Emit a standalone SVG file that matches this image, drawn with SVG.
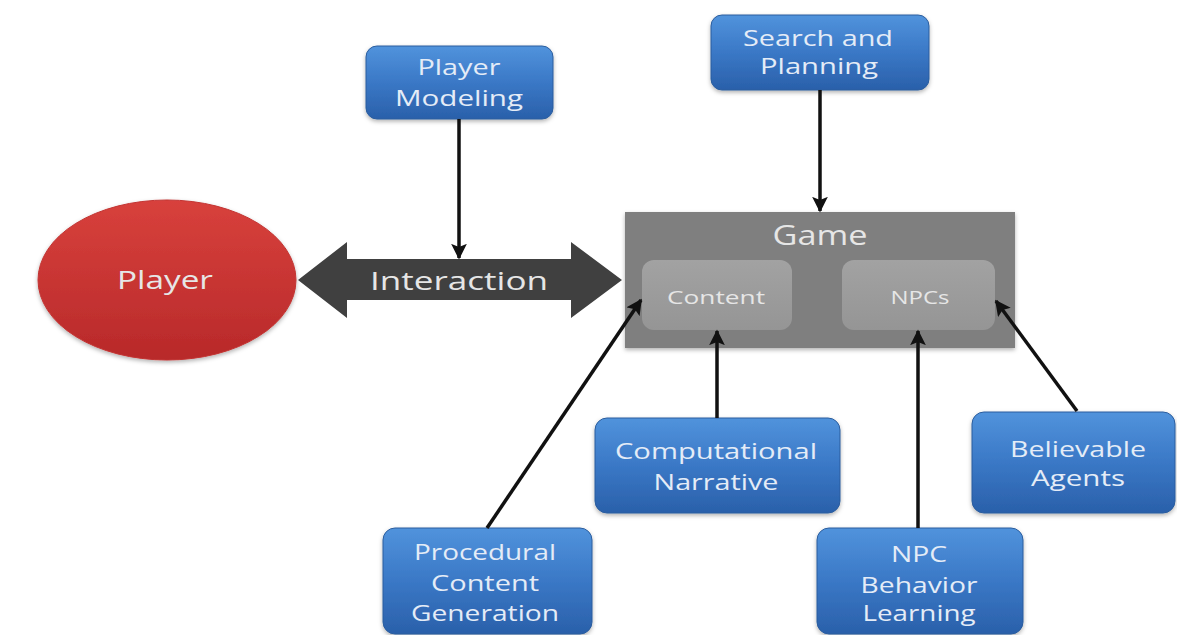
<svg xmlns="http://www.w3.org/2000/svg" width="1177" height="635" viewBox="0 0 1177 635">
<defs>
<linearGradient id="blue" x1="0" y1="0" x2="0" y2="1">
<stop offset="0" stop-color="#5193dc"/>
<stop offset="0.5" stop-color="#3a78c6"/>
<stop offset="1" stop-color="#2a60aa"/>
</linearGradient>
<linearGradient id="red" x1="0" y1="0" x2="0" y2="1">
<stop offset="0" stop-color="#d8413c"/>
<stop offset="1" stop-color="#b8292a"/>
</linearGradient>
<linearGradient id="inner" x1="0" y1="0" x2="0" y2="1">
<stop offset="0" stop-color="#a2a2a2"/>
<stop offset="1" stop-color="#959595"/>
</linearGradient>
<filter id="sh" x="-10%" y="-10%" width="120%" height="130%">
<feDropShadow dx="0" dy="2" stdDeviation="2" flood-color="#000" flood-opacity="0.3"/>
</filter>
<marker id="ah" viewBox="0 0 10 10" refX="9" refY="5" markerWidth="4.5" markerHeight="4.5" orient="auto" markerUnits="strokeWidth">
<path d="M0,0 L10,5 L0,10 L2,5 Z" fill="#111"/>
</marker>
<style>
.box{fill:url(#blue);stroke:#2b5d9e;stroke-width:1;filter:url(#sh)}
.bt{font-family:"Open Sans","DejaVu Sans",sans-serif;font-size:21px;fill:#e4ecf7;text-anchor:middle}
.gt{font-family:"Open Sans","DejaVu Sans",sans-serif;fill:#e6e6e6;text-anchor:middle}
.conn{stroke:#111;stroke-width:3.5;fill:none;marker-end:url(#ah)}
</style>
</defs>
<rect width="1177" height="635" fill="#ffffff"/>

<g id="player">
<ellipse cx="167" cy="280" rx="129" ry="80" fill="url(#red)" stroke="#c23432" stroke-width="1" filter="url(#sh)"/>
<text class="gt" x="165" y="289" font-size="25" textLength="96" lengthAdjust="spacingAndGlyphs" fill="#f0dcdc">Player</text>
</g>

<g id="interaction">
<polygon points="298,280 347,242 347,259 571,259 571,242 622,280 571,318 571,300 347,300 347,318" fill="#404040"/>
<text class="gt" x="459" y="290" font-size="25" textLength="178" lengthAdjust="spacingAndGlyphs" fill="#d0d0d0">Interaction</text>
</g>

<g id="game">
<rect x="625" y="212" width="390" height="136" fill="#7f7f7f" filter="url(#sh)"/>
<text class="gt" x="820" y="245" font-size="27" textLength="95" lengthAdjust="spacingAndGlyphs">Game</text>
</g>

<g id="content">
<rect x="642" y="260" width="150" height="70" rx="12" fill="url(#inner)"/>
<text class="gt" x="716" y="304" font-size="19" textLength="98" lengthAdjust="spacingAndGlyphs">Content</text>
</g>

<g id="npcs">
<rect x="842" y="260" width="153" height="70" rx="12" fill="url(#inner)"/>
<text class="gt" x="920" y="304" font-size="19" textLength="59" lengthAdjust="spacingAndGlyphs">NPCs</text>
</g>

<g id="player-modeling">
<rect class="box" x="366" y="46" width="187" height="73" rx="11"/>
<text class="bt" x="459" y="75" textLength="83" lengthAdjust="spacingAndGlyphs">Player</text>
<text class="bt" x="459" y="106" textLength="128" lengthAdjust="spacingAndGlyphs">Modeling</text>
</g>

<g id="search-planning">
<rect class="box" x="711" y="15" width="218" height="75" rx="11"/>
<text class="bt" x="818" y="46" textLength="150" lengthAdjust="spacingAndGlyphs">Search and</text>
<text class="bt" x="819" y="74" textLength="118" lengthAdjust="spacingAndGlyphs">Planning</text>
</g>

<g id="computational-narrative">
<rect class="box" x="595" y="418" width="245" height="95" rx="12"/>
<text class="bt" x="716" y="459" textLength="202" lengthAdjust="spacingAndGlyphs">Computational</text>
<text class="bt" x="716" y="490" textLength="125" lengthAdjust="spacingAndGlyphs">Narrative</text>
</g>

<g id="believable-agents">
<rect class="box" x="972" y="412" width="203" height="101" rx="12"/>
<text class="bt" x="1078" y="457" textLength="136" lengthAdjust="spacingAndGlyphs">Believable</text>
<text class="bt" x="1078" y="486" textLength="94" lengthAdjust="spacingAndGlyphs">Agents</text>
</g>

<g id="procedural-content-generation">
<rect class="box" x="383" y="528" width="209" height="106" rx="12"/>
<text class="bt" x="485" y="560" textLength="142" lengthAdjust="spacingAndGlyphs">Procedural</text>
<text class="bt" x="485" y="591" textLength="108" lengthAdjust="spacingAndGlyphs">Content</text>
<text class="bt" x="485" y="621" textLength="148" lengthAdjust="spacingAndGlyphs">Generation</text>
</g>

<g id="npc-behavior-learning">
<rect class="box" x="817" y="528" width="206" height="106" rx="12"/>
<text class="bt" x="919" y="562" textLength="56" lengthAdjust="spacingAndGlyphs">NPC</text>
<text class="bt" x="919" y="593" textLength="117" lengthAdjust="spacingAndGlyphs">Behavior</text>
<text class="bt" x="919" y="621" textLength="113" lengthAdjust="spacingAndGlyphs">Learning</text>
</g>

<g id="connectors">
<line class="conn" x1="459" y1="119" x2="459" y2="258"/>
<line class="conn" x1="820" y1="90" x2="820" y2="211"/>
<line class="conn" x1="487" y1="528" x2="641" y2="300"/>
<line class="conn" x1="717" y1="418" x2="717" y2="331"/>
<line class="conn" x1="918" y1="528" x2="918" y2="331"/>
<line class="conn" x1="1077" y1="411" x2="996" y2="301"/>
</g>
</svg>
